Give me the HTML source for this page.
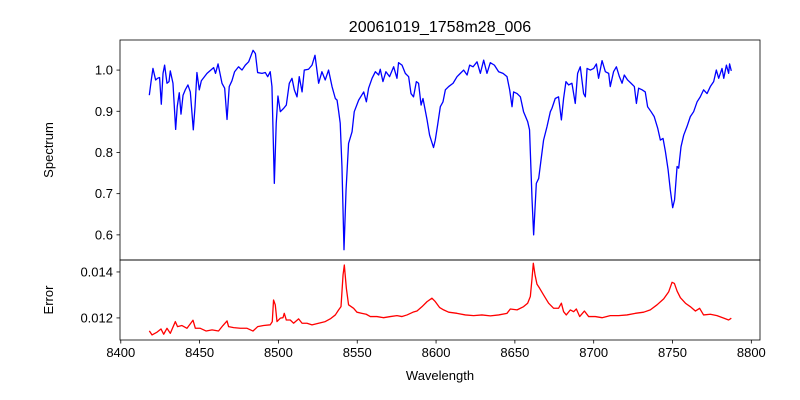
<!DOCTYPE html>
<html><head><meta charset="utf-8"><style>
body{margin:0;background:#fff;}
svg{display:block;font-family:"Liberation Sans","DejaVu Sans",sans-serif;}
</style></head><body>
<svg id="chart" width="800" height="400" viewBox="0 0 800 400"></svg>
<script>
const specWave=[8418.1,8419.2,8420.4,8422.1,8423.3,8424.6,8425.7,8426.8,8427.8,8429.3,8430.6,8431.4,8433.1,8434.8,8435.8,8437.1,8438.2,8439.5,8440.9,8442.6,8444.1,8446.0,8447.1,8448.3,8449.8,8451.1,8454.7,8458.9,8460.1,8461.7,8464.2,8465.9,8467.4,8468.8,8470.5,8472.2,8474.7,8476.9,8479.0,8481.1,8483.9,8485.4,8486.8,8489.6,8491.7,8493.2,8494.8,8495.9,8497.4,8498.6,8499.7,8501.2,8503.3,8505.0,8506.9,8508.6,8510.1,8511.8,8513.2,8515.0,8516.4,8519.1,8521.3,8523.2,8525.5,8527.6,8529.7,8531.8,8534.0,8536.1,8537.2,8538.2,8539.2,8540.3,8541.6,8542.9,8544.5,8546.7,8548.1,8550.9,8554.1,8555.8,8557.2,8559.4,8561.5,8563.6,8564.6,8566.3,8568.2,8570.5,8573.1,8575.2,8576.2,8578.4,8580.5,8582.6,8584.1,8585.7,8587.5,8588.9,8590.5,8591.7,8594.3,8595.9,8598.4,8599.5,8601.0,8602.7,8604.4,8605.9,8608.0,8610.8,8613.3,8615.4,8617.5,8619.7,8621.3,8623.5,8626.0,8628.1,8630.2,8632.3,8634.4,8637.0,8639.7,8642.5,8645.0,8646.7,8648.2,8649.2,8651.4,8653.5,8655.5,8658.1,8659.3,8660.9,8661.9,8663.6,8665.1,8666.6,8668.2,8670.4,8672.5,8673.5,8675.6,8677.7,8679.5,8680.9,8682.4,8684.1,8686.2,8688.3,8689.8,8691.5,8693.6,8694.7,8695.8,8697.9,8700.0,8701.7,8703.1,8705.3,8707.4,8709.5,8710.5,8712.6,8714.4,8716.3,8718.0,8719.4,8721.5,8723.7,8725.8,8727.1,8728.5,8730.7,8732.7,8734.2,8736.4,8738.4,8740.6,8742.3,8744.0,8745.5,8747.2,8748.6,8750.1,8751.3,8752.9,8753.9,8755.4,8757.1,8759.2,8761.3,8763.4,8765.6,8767.6,8769.7,8771.9,8774.0,8776.1,8777.8,8779.3,8781.4,8782.5,8784.2,8785.6,8786.2,8787.3];
const specFlux=[0.939,0.972,1.004,0.976,0.98,0.982,0.917,0.992,1.012,0.968,0.972,0.998,0.968,0.856,0.911,0.945,0.893,0.939,0.952,0.964,0.947,0.855,0.911,0.994,0.952,0.974,0.992,1.006,0.992,1.015,0.968,0.956,0.880,0.960,0.974,0.996,1.008,1.000,1.012,1.020,1.048,1.040,0.994,0.992,0.994,0.984,0.996,0.960,0.725,0.871,0.937,0.899,0.907,0.915,0.968,0.980,0.952,0.935,0.984,0.947,1.000,1.002,1.012,1.036,0.968,0.996,0.976,1.000,0.960,0.931,0.927,0.900,0.871,0.766,0.564,0.709,0.822,0.850,0.899,0.927,0.947,0.923,0.956,0.980,0.996,0.988,1.002,0.972,0.996,0.984,1.008,0.980,1.018,1.012,0.992,0.984,0.943,0.935,0.972,0.968,0.915,0.931,0.879,0.842,0.812,0.830,0.867,0.911,0.923,0.952,0.960,0.968,0.984,0.992,1.000,0.988,1.012,1.008,1.020,0.992,1.024,0.992,1.018,1.012,0.996,0.992,0.984,0.952,0.911,0.947,0.943,0.935,0.899,0.875,0.855,0.685,0.600,0.725,0.737,0.782,0.830,0.863,0.899,0.907,0.931,0.935,0.879,0.931,0.972,0.964,0.968,0.919,0.992,1.008,0.943,0.935,1.004,1.000,1.004,1.015,0.980,1.023,0.996,0.992,0.960,0.996,1.008,0.984,0.968,0.988,0.976,0.968,0.960,0.919,0.956,0.952,0.947,0.911,0.899,0.887,0.859,0.830,0.834,0.802,0.758,0.709,0.666,0.685,0.766,0.762,0.814,0.842,0.863,0.887,0.899,0.923,0.935,0.952,0.943,0.960,0.972,1.000,0.980,1.004,0.980,1.012,0.992,1.015,0.998];
const errWave=[8418.1,8419.8,8423.0,8425.5,8427.2,8429.3,8431.4,8434.6,8436.0,8438.8,8442.0,8445.8,8447.3,8450.4,8454.2,8457.9,8462.0,8464.8,8467.4,8468.4,8471.6,8475.8,8480.1,8483.9,8486.8,8490.6,8494.8,8496.1,8496.9,8498.0,8499.1,8501.2,8502.9,8503.7,8505.0,8507.5,8509.6,8512.8,8515.0,8518.1,8521.3,8525.5,8529.7,8532.9,8536.1,8538.2,8539.7,8541.0,8541.8,8543.1,8544.5,8547.7,8549.8,8553.0,8555.7,8558.3,8562.5,8566.7,8571.0,8575.2,8578.4,8581.6,8585.4,8587.9,8591.1,8594.3,8597.4,8599.5,8602.3,8604.8,8608.0,8613.3,8618.6,8623.8,8629.1,8634.4,8639.7,8645.0,8647.1,8651.4,8655.5,8658.1,8659.8,8660.9,8661.7,8662.8,8664.0,8665.7,8668.2,8671.4,8674.6,8677.7,8679.5,8680.9,8682.6,8685.2,8687.3,8689.0,8691.1,8694.1,8696.8,8701.0,8705.3,8710.5,8715.8,8721.1,8726.4,8731.7,8735.9,8740.2,8744.4,8747.6,8749.7,8751.2,8752.9,8755.0,8758.2,8761.3,8764.5,8767.2,8769.7,8774.0,8778.2,8782.5,8785.6,8787.3];
const errVal=[0.011435,0.011261,0.01138,0.01152,0.01129,0.01155,0.01133,0.01184,0.01162,0.01167,0.01155,0.0119,0.01155,0.01155,0.01143,0.01148,0.01143,0.01167,0.01187,0.01162,0.01158,0.01155,0.01155,0.01143,0.01162,0.01167,0.0117,0.01184,0.01278,0.01257,0.01184,0.01199,0.01201,0.0122,0.01191,0.01191,0.01177,0.01196,0.01177,0.01177,0.0117,0.01177,0.01184,0.01196,0.01213,0.01235,0.01249,0.01387,0.0143,0.01329,0.01257,0.01242,0.01225,0.0122,0.01216,0.01206,0.01206,0.01201,0.01206,0.0121,0.01206,0.01213,0.01225,0.0123,0.01249,0.01271,0.01286,0.01271,0.01245,0.01235,0.01225,0.0122,0.01213,0.0121,0.01213,0.01209,0.01213,0.0122,0.01239,0.01235,0.01249,0.01264,0.01293,0.01373,0.01438,0.01387,0.01347,0.01329,0.013,0.01264,0.01242,0.01242,0.01264,0.01227,0.01213,0.01235,0.01227,0.01239,0.01206,0.0123,0.01206,0.01206,0.01201,0.0121,0.0121,0.01213,0.0122,0.01225,0.01235,0.01257,0.01283,0.01314,0.01355,0.0135,0.01317,0.01288,0.01264,0.01249,0.0123,0.01242,0.01213,0.01216,0.0121,0.01199,0.01191,0.01199];
const xTicks=[8400,8450,8500,8550,8600,8650,8700,8750,8800];
const specTicks=[0.6,0.7,0.8,0.9,1.0];
const specTickLabels=["0.6","0.7","0.8","0.9","1.0"];
const errTicks=[0.012,0.014];
const errTickLabels=["0.012","0.014"];

const NS="http://www.w3.org/2000/svg";
const svg=document.getElementById('chart');
const L=120,R=760,T1=40,B1=260,T2=260,B2=340;
const xMin=8399.5,xMax=8805.5;
const yMin1=0.539,yMax1=1.073;
const yMin2=0.01104,yMax2=0.01452;
const xS=v=>L+(v-xMin)/(xMax-xMin)*(R-L);
const y1=v=>B1-(v-yMin1)/(yMax1-yMin1)*(B1-T1);
const y2=v=>B2-(v-yMin2)/(yMax2-yMin2)*(B2-T2);
function mk(tag,attrs,parent){const e=document.createElementNS(NS,tag);for(const k in attrs)e.setAttribute(k,attrs[k]);(parent||svg).appendChild(e);return e;}

let d=specWave.map((w,i)=>(i?'L':'M')+xS(w).toFixed(2)+' '+y1(specFlux[i]).toFixed(2)).join(' ');
const sl=mk('path',{d:d,fill:'none',stroke:'#0000ff','stroke-width':1.3,'stroke-linejoin':'round'});


d=errWave.map((w,i)=>(i?'L':'M')+xS(w).toFixed(2)+' '+y2(errVal[i]).toFixed(2)).join(' ');
const el=mk('path',{d:d,fill:'none',stroke:'#ff0000','stroke-width':1.3,'stroke-linejoin':'round'});



const f1=mk('rect',{x:L,y:T1,width:R-L,height:B1-T1,fill:'none',stroke:'#000','stroke-width':0.8});


const f2=mk('rect',{x:L,y:T2,width:R-L,height:B2-T2,fill:'none',stroke:'#000','stroke-width':0.8});



xTicks.forEach(v=>{const x=xS(v);
 const t=mk('line',{x1:x,x2:x,y1:B2,y2:B2+3.5,stroke:'#000','stroke-width':0.8});
 
 
 const tx=mk('text',{x:x,y:B2+17,'text-anchor':'middle','font-size':13});tx.textContent=String(v);
 
 });
specTicks.forEach((v,i)=>{const y=y1(v);
 const t=mk('line',{x1:L-3.5,x2:L,y1:y,y2:y,stroke:'#000','stroke-width':0.8});
 
 
 const tx=mk('text',{x:L-7,y:y+4.5,'text-anchor':'end','font-size':13});tx.textContent=specTickLabels[i];
 
 });
errTicks.forEach((v,i)=>{const y=y2(v);
 const t=mk('line',{x1:L-3.5,x2:L,y1:y,y2:y,stroke:'#000','stroke-width':0.8});
 
 
 const tx=mk('text',{x:L-7,y:y+4.5,'text-anchor':'end','font-size':13});tx.textContent=errTickLabels[i];
 
 });

const ti=mk('text',{x:440,y:32,'text-anchor':'middle','font-size':16});ti.textContent='20061019_1758m28_006';


const xl=mk('text',{x:440,y:380,'text-anchor':'middle','font-size':13});xl.textContent='Wavelength';


const yl1=mk('text',{x:0,y:0,'text-anchor':'middle','font-size':13,transform:'translate(53,150) rotate(-90)'});yl1.textContent='Spectrum';


const yl2=mk('text',{x:0,y:0,'text-anchor':'middle','font-size':13,transform:'translate(53,300) rotate(-90)'});yl2.textContent='Error';


</script>
</body></html>
